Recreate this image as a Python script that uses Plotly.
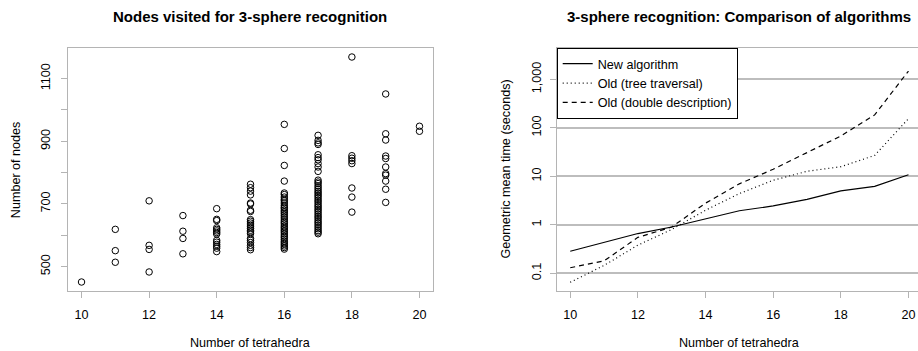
import plotly.graph_objects as go

W, H = 918, 351

# ---------------- Left panel data: nodes visited per tetrahedra count ----------------
nodes_n10 = [451]
nodes_n11 = [619, 551, 514]
nodes_n12 = [710, 568, 555, 483]
nodes_n13 = [663, 613, 590, 541]
nodes_n14 = [685, 651, 647, 624, 619, 614, 609, 604, 584, 578, 571, 565, 559, 548]
nodes_n15 = [763, 752, 741, 729, 703, 700, 680, 676, 650, 645, 639, 633, 627, 622,
             616, 611, 605, 590, 584, 577, 568, 561, 554]
nodes_n16 = [954, 877, 823, 773, 735, 730, 722, 715, 710, 703, 696, 690, 686, 680,
             675, 670, 664, 658, 652, 646, 641, 636, 630, 625, 620, 615, 610, 604,
             598, 593, 587, 581, 576, 571, 566, 561, 556]
nodes_n17 = [919, 903, 895, 890, 857, 848, 841, 829, 818, 804, 776, 770, 765, 758,
             752, 746, 740, 735, 729, 724, 718, 712, 707, 701, 695, 690, 684, 679,
             673, 667, 661, 656, 650, 644, 639, 633, 627, 621, 615, 610, 605]
nodes_n18 = [1169, 854, 846, 838, 829, 751, 722, 674]
nodes_n19 = [1051, 924, 904, 853, 845, 818, 797, 792, 773, 747, 705]
nodes_n20 = [948, 932]

left_xticks = [10, 12, 14, 16, 18, 20]
left_yticks = [500, 600, 700, 800, 900, 1000, 1100]
left_ytick_labels = ["500", "", "700", "", "900", "", "1100"]

# ---------------- Right panel data: geometric mean times ----------------
sizes = [10, 11, 12, 13, 14, 15, 16, 17, 18, 19, 20]
time_new = [0.285, 0.44, 0.66, 0.9, 1.32, 1.95, 2.45, 3.35, 5.0, 6.2, 10.8]
time_tree = [0.065, 0.145, 0.38, 0.8, 2.0, 4.4, 8.3, 12.7, 15.8, 27, 155]
time_dd = [0.13, 0.18, 0.55, 0.9, 2.8, 7.0, 14.0, 31, 68, 185, 1490]

right_xticks = [10, 12, 14, 16, 18, 20]
right_yticks = [0.1, 1, 10, 100, 1000]
right_ytick_labels = ["0.1", "1", "10", "100", "1,000"]

# ---------------- Build ----------------
groups = [(10, nodes_n10), (11, nodes_n11), (12, nodes_n12), (13, nodes_n13),
          (14, nodes_n14), (15, nodes_n15), (16, nodes_n16), (17, nodes_n17),
          (18, nodes_n18), (19, nodes_n19), (20, nodes_n20)]
sx, sy = [], []
for n, vals in groups:
    sx += [n] * len(vals)
    sy += vals

FONT = "Liberation Sans, Arial, Helvetica, sans-serif"
BOX = "#b4b4b4"
GRID = "#bdbdbd"

def fx(px):
    return px / W

def fy(py):
    return 1 - py / H

# plot boxes in pixels
L0, L1 = 68, 433
R0, R1full = 556.7, 922.0
T, B = 48, 291

fig = go.Figure()

fig.add_trace(go.Scatter(
    x=sx, y=sy, mode="markers", xaxis="x", yaxis="y", showlegend=False,
    marker=dict(symbol="circle-open", size=6.5, color="black",
                line=dict(color="black", width=1)),
))

fig.add_trace(go.Scatter(
    x=sizes, y=time_new, mode="lines", name="New algorithm", xaxis="x2", yaxis="y2",
    line=dict(color="black", width=1.2),
))
fig.add_trace(go.Scatter(
    x=sizes, y=time_tree, mode="lines", name="Old (tree traversal)", xaxis="x2", yaxis="y2",
    line=dict(color="black", width=1.2, dash="1px,3px"),
))
fig.add_trace(go.Scatter(
    x=sizes, y=time_dd, mode="lines", name="Old (double description)", xaxis="x2", yaxis="y2",
    line=dict(color="black", width=1.2, dash="5px,4px"),
))

# ranges (R style 4% extension)
xmin, xmax = min(sx), max(sx)
pad = 0.04 * (xmax - xmin)
left_xr = [xmin - pad, xmax + pad]
ymin, ymax = min(sy), max(sy)
ypad = 0.04 * (ymax - ymin)
left_yr = [ymin - ypad, ymax + ypad]

rx0, rx1 = min(sizes) - 0.04 * (max(sizes) - min(sizes)), max(sizes) + 0.04 * (max(sizes) - min(sizes))
# right panel is cut by the page edge
rx1_vis = rx0 + (rx1 - rx0) * (W - R0) / (R1full - R0)
right_yr = [-1.366, 3.648]

tickfont = dict(family=FONT, size=12.6, color="black")
common_axis = dict(showline=True, linecolor=BOX, linewidth=1, ticks="outside",
                   ticklen=6, tickcolor=BOX, tickwidth=1, zeroline=False,
                   tickfont=tickfont)

fig.update_layout(
    width=W, height=H,
    margin=dict(l=0, r=0, t=0, b=0),
    paper_bgcolor="white", plot_bgcolor="white",
    font=dict(family=FONT, size=12.6, color="black"),
    xaxis=dict(domain=[fx(L0), fx(L1)], range=left_xr, anchor="y",
               tickvals=left_xticks, mirror=True, showgrid=False,
               ticklabelstandoff=6, **common_axis),
    yaxis=dict(domain=[fy(B), fy(T)], range=left_yr, anchor="x",
               tickvals=left_yticks, ticktext=left_ytick_labels, tickangle=-90,
               mirror=True, showgrid=False, ticklabelstandoff=6, **common_axis),
    xaxis2=dict(domain=[fx(R0), 1.0], range=[rx0, rx1_vis], anchor="y2",
                tickvals=right_xticks, mirror=True, showgrid=False,
                ticklabelstandoff=6, **common_axis),
    yaxis2=dict(domain=[fy(B), fy(T)], type="log", range=right_yr, anchor="x2",
                tickvals=right_yticks, ticktext=right_ytick_labels, tickangle=-90,
                showgrid=True, gridcolor=GRID, gridwidth=1.5, mirror=False,
                ticklabelstandoff=4, **common_axis),
    legend=dict(x=fx(R0), y=fy(T), xanchor="left", yanchor="top",
                bgcolor="white", bordercolor="black", borderwidth=1,
                font=dict(family=FONT, size=12.6, color="black"),
                tracegroupgap=0),
    annotations=[
        dict(text="<b>Nodes visited for 3-sphere recognition</b>", x=fx((L0 + L1) / 2), y=fy(16),
             xref="paper", yref="paper", showarrow=False, xanchor="center", yanchor="middle",
             font=dict(family=FONT, size=15, color="black")),
        dict(text="<b>3-sphere recognition: Comparison of algorithms</b>", x=fx((R0 + R1full) / 2), y=fy(16),
             xref="paper", yref="paper", showarrow=False, xanchor="center", yanchor="middle",
             font=dict(family=FONT, size=15, color="black")),
        dict(text="Number of tetrahedra", x=fx((L0 + L1) / 2), y=fy(343),
             xref="paper", yref="paper", showarrow=False, xanchor="center", yanchor="middle",
             font=dict(family=FONT, size=12.6, color="black")),
        dict(text="Number of tetrahedra", x=fx((R0 + R1full) / 2), y=fy(343),
             xref="paper", yref="paper", showarrow=False, xanchor="center", yanchor="middle",
             font=dict(family=FONT, size=12.6, color="black")),
        dict(text="Number of nodes", x=fx(15.7), y=fy((T + B) / 2), textangle=-90,
             xref="paper", yref="paper", showarrow=False, xanchor="center", yanchor="middle",
             font=dict(family=FONT, size=12.6, color="black")),
        dict(text="Geometric mean time (seconds)", x=fx(505), y=fy((T + B) / 2), textangle=-90,
             xref="paper", yref="paper", showarrow=False, xanchor="center", yanchor="middle",
             font=dict(family=FONT, size=12.6, color="black")),
    ],
)

fig.write_html("out.html")
